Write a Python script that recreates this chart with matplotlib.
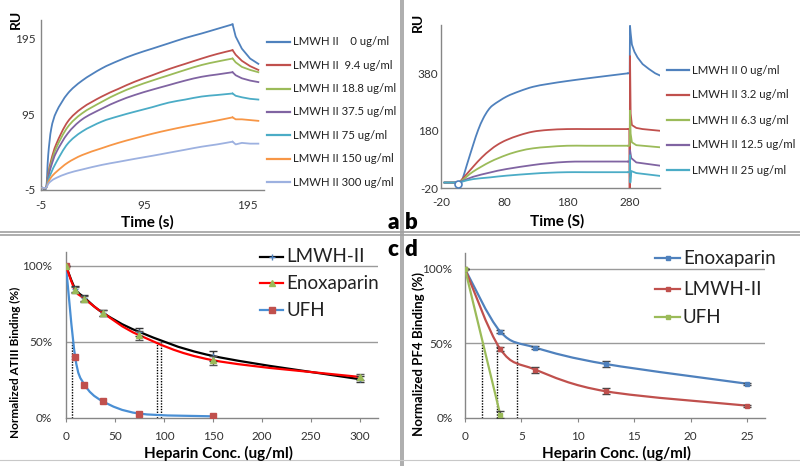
import numpy as np
import matplotlib
matplotlib.use("Agg")
import matplotlib.pyplot as plt
from matplotlib.path import Path
from matplotlib.patches import PathPatch
from matplotlib.lines import Line2D

plt.rcParams['font.family'] = ['Lato', 'DejaVu Sans']

# ---- panel a : SPR sensorgrams, LMWH II competition with ATIII ----
a_labels = ['LMWH II    0 ug/ml', 'LMWH II  9.4 ug/ml', 'LMWH II 18.8 ug/ml',
            'LMWH II 37.5 ug/ml', 'LMWH II 75 ug/ml', 'LMWH II 150 ug/ml',
            'LMWH II 300 ug/ml']
a_colors = ['#4F81BD', '#C0504D', '#9BBB59', '#8064A2', '#4BACC6', '#F79646', '#9DB1E0']
a_t_on = [-4, 0, 2, 5, 10, 21, 35, 54, 70, 86, 103, 119, 135, 151, 166, 181]
a_ru_on = [
    [-2, -2, 41, 76, 98, 122, 139, 155, 165, 173.5, 181, 188, 195, 201, 207, 213],
    [-2, -2, 16, 35, 56, 85, 103, 118, 128, 137.5, 146, 154, 161, 168, 174, 179],
    [-2, -2, 14, 31, 51, 78, 96, 111, 122, 131, 139, 146, 153, 159.5, 164, 168],
    [-2, -2, 12, 27, 45, 69.5, 88, 102, 112, 120, 127, 133, 139, 144, 147, 150],
    [-2, -2, 8, 18, 32, 56, 72, 85, 92, 98, 104, 110, 114, 118, 120, 122],
    [-2, -2, 5, 12, 19, 31, 41, 50, 57, 63, 69, 74, 78.5, 82.6, 86.5, 90.6],
    [-2, -2, 3, 7, 11, 17, 22, 28, 32, 36, 40, 44, 48, 52, 55, 58.6],
]
a_t_off = [181, 184, 190, 198, 206]
a_ru_off = [
    [213, 197, 181, 168, 161],
    [179, 173, 165, 158, 153],
    [168, 163, 157, 153, 150],
    [150, 146, 142, 139, 137],
    [122, 119, 117, 115, 114],
    [90.6, 88, 88, 87, 86],
    [58.6, 55, 57, 56, 56],
]

# ---- panel b : SPR sensorgrams, LMWH II competition with PF4 ----
b_labels = ['LMWH II 0 ug/ml', 'LMWH II 3.2 ug/ml', 'LMWH II 6.3 ug/ml',
            'LMWH II 12.5 ug/ml', 'LMWH II 25 ug/ml']
b_colors = ['#4F81BD', '#C0504D', '#9BBB59', '#8064A2', '#4BACC6']
b_t_on = [
    [-15, 0, 10, 13, 21, 31, 39, 47, 55, 63, 84, 105, 126, 150, 180, 211, 240, 277],
    [-15, 0, 8, 15, 31, 45, 58, 70, 84, 105, 126, 150, 180, 211, 240, 277],
    [-15, 0, 8, 15, 31, 58, 84, 105, 126, 150, 180, 211, 240, 277],
    [-15, 0, 8, 15, 31, 58, 84, 126, 150, 180, 211, 277],
    [-15, 0, 8, 15, 31, 58, 84, 126, 150, 180, 211, 277],
]
b_ru_on = [
    [0, 0, 2, 5, 61, 131, 183, 223, 252, 270, 299, 318, 333, 343, 353, 362, 370, 380],
    [0, 0, 1, 15, 55, 88, 113, 132, 148, 165, 177, 183, 186, 186, 186, 186],
    [0, 0, 1, 10, 38, 72, 96, 110, 119, 124, 128, 128, 128, 128],
    [0, 0, 1, 6, 20, 35, 47, 61, 67, 72, 73, 73],
    [0, 0, 1, 4, 12, 18, 24, 31, 34, 36, 36, 36],
]
b_t_off = [
    [277, 279.5, 280, 281, 283, 287, 292, 300, 310, 320, 328],
    [277, 279, 279.5, 280, 281, 283, 290, 300, 328],
    [277, 279.5, 280, 281, 283, 290, 328],
    [277, 279.5, 280, 282, 290, 328],
    [277, 279.5, 280, 280.5, 282, 290, 328],
]
b_ru_off = [
    [380, 380, 545, 520, 480, 455, 435, 412, 395, 380, 372],
    [186, 186, -20, 440, 240, 200, 190, 186, 180],
    [128, 128, 250, 170, 140, 130, 122.6],
    [73, 73, 113, 85, 70, 58.6],
    [36, 36, 95, 0, 40, 33, 23],
]

# ---- panel c : normalized ATIII binding ----
c_conc = [0, 9.4, 18.8, 37.5, 75, 150, 300]
c_lmwh = [100, 85, 79.2, 69.3, 56.6, 40.8, 25.5]
c_lmwh_err = [0, 2, 2, 2, 2.5, 3, 2]
c_enox = [100, 84, 78.5, 69.3, 54.4, 38, 27]
c_enox_err = [0, 2, 2, 2, 3, 3, 2]
c_ufh_conc = [0, 9.4, 18.8, 37.5, 75, 150]
c_ufh = [100, 40, 22, 11, 2.9, 1.1]
c_ic50 = [6, 93, 97]

# ---- panel d : normalized PF4 binding ----
d_conc = [0, 3.125, 6.25, 12.5, 25]
d_enox = [100, 58, 47.2, 36.2, 23]
d_enox_err = [0, 1.2, 1, 2, 0.8]
d_lmwh = [100, 46.3, 32.4, 17.9, 8.3]
d_lmwh_err = [0, 1.5, 2, 2, 0.6]
d_ufh_conc = [0, 3.125]
d_ufh = [100, 2.2]
d_ufh_err = [0, 2.5]
d_ic50 = [1.54, 2.8, 4.64]

W, H = 800, 466
fig = plt.figure(figsize=(8, 4.66), dpi=100)
AX_GREY = '#868686'
TICK_FS = 8.5


def box(x0, y0, x1, y1):
    return [x0 / W, 1 - y1 / H, (x1 - x0) / W, (y1 - y0) / H]


def fxy(px, py):
    return px / W, 1 - py / H


def smooth(ax, x, y, color, lw=1.4, z=3):
    # Excel style smoothed line: cubic bezier through the data points
    x = np.asarray(x, float)
    y = np.asarray(y, float)
    n = len(x)
    verts = [(x[0], y[0])]
    codes = [Path.MOVETO]
    for i in range(n - 1):
        i0 = max(i - 1, 0)
        i3 = min(i + 2, n - 1)
        c1 = (x[i] + (x[i + 1] - x[i0]) / 6, y[i] + (y[i + 1] - y[i0]) / 6)
        c2 = (x[i + 1] - (x[i3] - x[i]) / 6, y[i + 1] - (y[i3] - y[i]) / 6)
        verts += [c1, c2, (x[i + 1], y[i + 1])]
        codes += [Path.CURVE4] * 3
    ax.add_patch(PathPatch(Path(verts, codes), fill=False, edgecolor=color,
                           lw=lw, zorder=z, capstyle='round', joinstyle='round'))


def setup(ax, xlim, ylim, xt, yt, xpad, ypad, xlen=0):
    ax.set_xlim(*xlim)
    ax.set_ylim(*ylim)
    for s in ['top', 'right']:
        ax.spines[s].set_visible(False)
    for s in ['left', 'bottom']:
        ax.spines[s].set_color(AX_GREY)
        ax.spines[s].set_linewidth(1)
    ax.set_xticks(xt[0], xt[1])
    ax.set_yticks(yt[0], yt[1])
    ax.tick_params(axis='x', length=xlen, pad=xpad, labelsize=TICK_FS,
                   color=AX_GREY, labelcolor='#333333')
    ax.tick_params(axis='y', length=0, pad=ypad, labelsize=TICK_FS,
                   labelcolor='#333333')
    ax.patch.set_alpha(0)


def legend_line(x0, x1, y, color, text, size, marker=None, mcolor=None, ms=4):
    fig.add_artist(Line2D([x0 / W, x1 / W], [1 - y / H] * 2, color=color, lw=1.6,
                          transform=fig.transFigure))
    if marker:
        fig.add_artist(Line2D([(x0 + x1) / 2 / W], [1 - y / H], marker=marker,
                              color=mcolor, ms=ms, lw=0, transform=fig.transFigure))
    fig.text((x1 + 3) / W, 1 - y / H, text, fontsize=size, va='center', ha='left',
             color='#222222')


# ---------------- panel a ----------------
ax_a = fig.add_axes(box(41, 20, 264, 190))
setup(ax_a, (-5, 211.5), (-5, 218.7), ([-5, 95, 195], ['-5', '95', '195']),
      ([-5, 95, 195], ['-5', '95', '195']), 7, 4)
for i in range(len(a_labels)):
    smooth(ax_a, a_t_on, a_ru_on[i], a_colors[i], lw=1.3)
    ax_a.plot(a_t_off, a_ru_off[i], color=a_colors[i], lw=1.3)
    legend_line(267, 290, 41.7 + i * 23.4, a_colors[i], a_labels[i], 8.2)
fig.text(*fxy(16, 19), 'RU', rotation=90, fontsize=10, fontweight='bold',
         ha='center', va='center')
fig.text(*fxy(147, 222), 'Time (s)', fontsize=11, fontweight='bold',
         ha='center', va='center')

# ---------------- panel b ----------------
ax_b = fig.add_axes(box(441, 25, 660, 188.3))
setup(ax_b, (-20, 327.6), (-20, 548), ([-20, 80, 180, 280], ['-20', '80', '180', '280']),
      ([-20, 180, 380], ['-20', '180', '380']), 6, 2)
for i in range(len(b_labels)):
    smooth(ax_b, b_t_on[i], b_ru_on[i], b_colors[i], lw=1.3)
    ax_b.plot(b_t_off[i], b_ru_off[i], color=b_colors[i], lw=1.3, zorder=3)
    legend_line(667, 689, 70 + i * 25, b_colors[i], b_labels[i], 8.2)
ax_b.plot([7.5], [-4], marker='o', mfc='white', mec=b_colors[0], ms=5, mew=1.2, zorder=4)
fig.text(*fxy(418, 22), 'RU', rotation=90, fontsize=10, fontweight='bold',
         ha='center', va='center')
fig.text(*fxy(557, 221), 'Time (S)', fontsize=11, fontweight='bold',
         ha='center', va='center')

# ---------------- panel c ----------------
ax_c = fig.add_axes(box(66, 252, 378, 418))
setup(ax_c, (0, 318.4), (0, 109.2),
      ([0, 50, 100, 150, 200, 250, 300], ['0', '50', '100', '150', '200', '250', '300']),
      ([0, 50, 100], ['0%', '50%', '100%']), 6, 10, xlen=3)
for g in [50, 100]:
    ax_c.axhline(g, color='#9A9A9A', lw=1, zorder=1)
for xv in c_ic50:
    ax_c.plot([xv, xv], [0, 50], color='black', lw=1, ls=(0, (1, 1)), zorder=2)
smooth(ax_c, c_conc, c_lmwh, 'black', lw=1.6, z=3)
smooth(ax_c, c_conc, c_enox, '#FF0000', lw=1.6, z=4)
smooth(ax_c, c_ufh_conc, c_ufh, '#4A8FD4', lw=1.6, z=3)
ax_c.errorbar(c_conc, c_lmwh, yerr=c_lmwh_err, fmt='+', color='#4F81BD', ms=5,
              ecolor='#333333', elinewidth=1, capsize=3, zorder=5)
ax_c.errorbar(c_conc, c_enox, yerr=c_enox_err, fmt='^', color='#9BBB59', ms=5,
              ecolor='#555555', elinewidth=1, capsize=3, zorder=6)
ax_c.plot(c_ufh_conc, c_ufh, 's', color='#C0504D', ms=5, lw=0, zorder=6)
legend_line(260, 283, 256.7, 'black', 'LMWH-II', 13.5, '+', '#4F81BD', 5)
legend_line(260, 283, 283.3, '#FF0000', 'Enoxaparin', 13.5, '^', '#9BBB59', 5)
legend_line(260, 283, 310, '#4A8FD4', 'UFH', 13.5, 's', '#C0504D', 5)
fig.text(*fxy(15, 362), 'Normalized ATIII Binding (%)', rotation=90, fontsize=8.5,
         fontweight='bold', ha='center', va='center')
fig.text(*fxy(218, 453), 'Heparin Conc. (ug/ml)', fontsize=11, fontweight='bold',
         ha='center', va='center')

# ---------------- panel d ----------------
ax_d = fig.add_axes(box(465, 253, 765, 418))
setup(ax_d, (0, 26.6), (0, 110.7),
      ([0, 5, 10, 15, 20, 25], ['0', '5', '10', '15', '20', '25']),
      ([0, 50, 100], ['0%', '50%', '100%']), 6, 9, xlen=3)
for g in [50, 100]:
    ax_d.axhline(g, color='#9A9A9A', lw=1, zorder=1)
for xv in d_ic50:
    ax_d.plot([xv, xv], [0, 50], color='black', lw=1, ls=(0, (1, 1)), zorder=2)
smooth(ax_d, d_conc, d_enox, '#4F81BD', lw=1.6)
smooth(ax_d, d_conc, d_lmwh, '#C0504D', lw=1.6)
ax_d.plot(d_ufh_conc, d_ufh, color='#9BBB59', lw=1.6, zorder=3)
ax_d.errorbar(d_conc, d_enox, yerr=d_enox_err, fmt='s', color='#4F81BD', ms=3,
              ecolor='#444444', elinewidth=1, capsize=3, zorder=5)
ax_d.errorbar(d_conc, d_lmwh, yerr=d_lmwh_err, fmt='s', color='#C0504D', ms=3,
              ecolor='#444444', elinewidth=1, capsize=3, zorder=5)
ax_d.errorbar(d_ufh_conc, d_ufh, yerr=d_ufh_err, fmt='s', color='#9BBB59', ms=3,
              ecolor='#444444', elinewidth=1, capsize=3, zorder=5)
legend_line(655, 680, 258.3, '#4F81BD', 'Enoxaparin', 13.5, 's', '#4F81BD', 3)
legend_line(655, 680, 289.3, '#C0504D', 'LMWH-II', 13.5, 's', '#C0504D', 3)
legend_line(655, 680, 317.3, '#9BBB59', 'UFH', 13.5, 's', '#9BBB59', 3)
fig.text(*fxy(419, 354), 'Normalized PF4 Binding (%)', rotation=90, fontsize=9.5,
         fontweight='bold', ha='center', va='center')
fig.text(*fxy(617, 453), 'Heparin Conc. (ug/ml)', fontsize=11, fontweight='bold',
         ha='center', va='center')

# ---------------- frame, separators and panel letters ----------------
for px in [400.7, 403.3]:
    fig.add_artist(Line2D([px / W] * 2, [0, 1], color='#A0A0A0', lw=1.2,
                          transform=fig.transFigure))
for py in [232.3, 235.3]:
    fig.add_artist(Line2D([0, 1], [1 - py / H] * 2, color='#A0A0A0', lw=1.2,
                          transform=fig.transFigure))
fig.add_artist(Line2D([0, 1], [1 - 460 / H] * 2, color='#C8C8C8', lw=0.8,
                      transform=fig.transFigure))
for letter, px, py in [('a', 393, 222), ('b', 411, 222), ('c', 393, 250), ('d', 411, 250)]:
    fig.text(*fxy(px, py), letter, fontsize=16, fontweight='heavy', ha='center',
             va='center')

fig.savefig('out.png', dpi=100)
